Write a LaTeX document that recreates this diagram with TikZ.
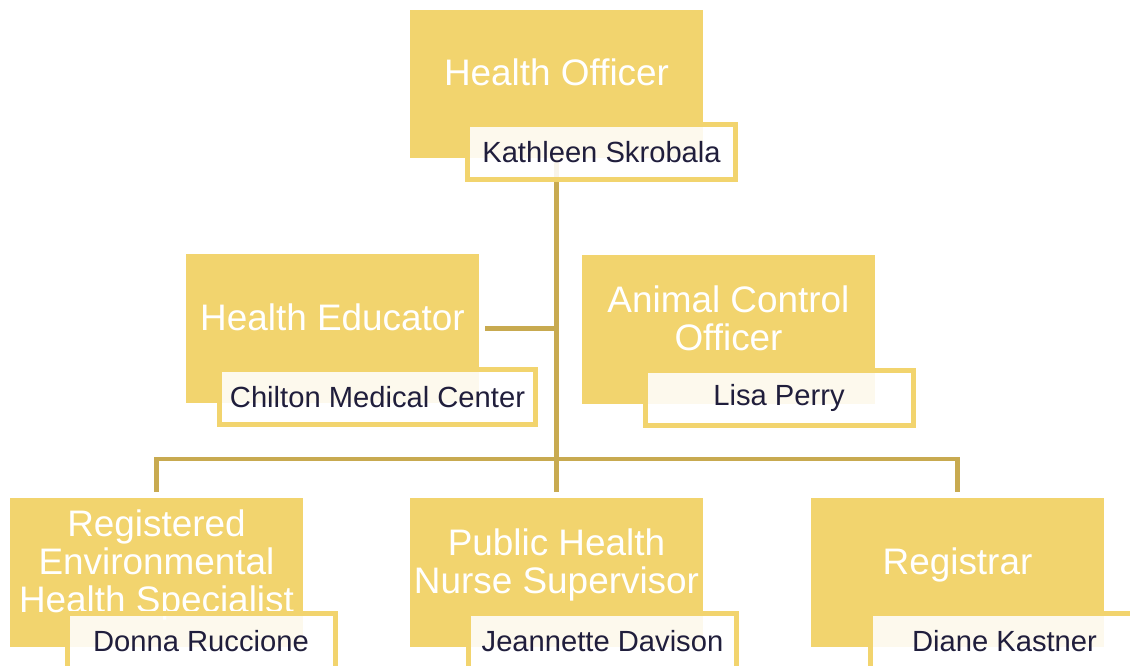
\documentclass[tikz,border=0pt]{standalone}
\usepackage{fontspec}
\setmainfont{Liberation Sans}
\definecolor{roleyellow}{RGB}{242,212,110}
\definecolor{linkgold}{RGB}{200,170,80}
\definecolor{namenavy}{RGB}{32,30,60}
\begin{document}
\begin{tikzpicture}[y=-1cm,
  rolebox/.style={fill=roleyellow, minimum width=5.86cm, minimum height=2.97cm, inner sep=0pt},
  roletitle/.style={text=white, align=center, font=\fontsize{21}{21.6}\selectfont, inner sep=0pt},
  namebox/.style={draw=roleyellow, line width=0.1cm, fill=white, fill opacity=0.88, text opacity=1,
    text=namenavy, minimum width=5.36cm, minimum height=1.1cm, inner sep=0pt, font=\fontsize{16.6}{18}\selectfont},
  link/.style={draw=linkgold, line width=0.09cm}]
\useasboundingbox (0,0) rectangle (22.6,13.3);

% role boxes
\node[rolebox] (officer) at (11.13,1.68) {};
\node[rolebox] (educator) at (6.65,6.57) {};
\node[rolebox] (animal) at (14.57,6.59) {};
\node[rolebox] (envspec) at (3.13,11.45) {};
\node[rolebox] (nurse) at (11.13,11.45) {};
\node[rolebox] (registrar) at (19.15,11.45) {};

% lines between the boxes
\coordinate (bus) at (11.13,9.18);
\draw[link] (officer.south) -- ([yshift=0.12cm]nurse.north);
\draw[link] ([xshift=0.12cm]educator.east) -- (educator.east -| officer.south);
\draw[link] ([yshift=0.12cm]envspec.north) |- (bus) -| ([yshift=0.12cm]registrar.north);

% titles
\node[roletitle] (officer-t) at ([yshift=0.23cm]officer.center) {Health Officer};
\node[roletitle] (educator-t) at ([yshift=0.22cm]educator.center) {Health Educator};
\node[roletitle] (animal-t) at ([yshift=0.22cm]animal.center) {Animal Control\\Officer};
\node[roletitle] (envspec-t) at ([yshift=0.16cm]envspec.center) {Registered\\Environmental\\Health Specialist};
\node[roletitle] (nurse-t) at ([yshift=0.16cm]nurse.center) {Public Health\\Nurse Supervisor};
\node[roletitle] (registrar-t) at ([yshift=0.16cm]registrar.center) {Registrar};

% names
\node[namebox] (officer-n) at (12.03,3.04) {Kathleen Skrobala};
\node[namebox, minimum width=6.32cm] (educator-n) at (7.55,7.94) {Chilton Medical Center};
\node[namebox] (animal-n) at (15.58,7.96) {Lisa Perry};
\node[namebox] (envspec-n) at (4.02,12.82) {Donna Ruccione};
\node[namebox] (nurse-n) at (12.05,12.82) {Jeannette Davison};
\node[namebox] (registrar-n) at (20.09,12.82) {Diane Kastner};

\end{tikzpicture}
\end{document}
